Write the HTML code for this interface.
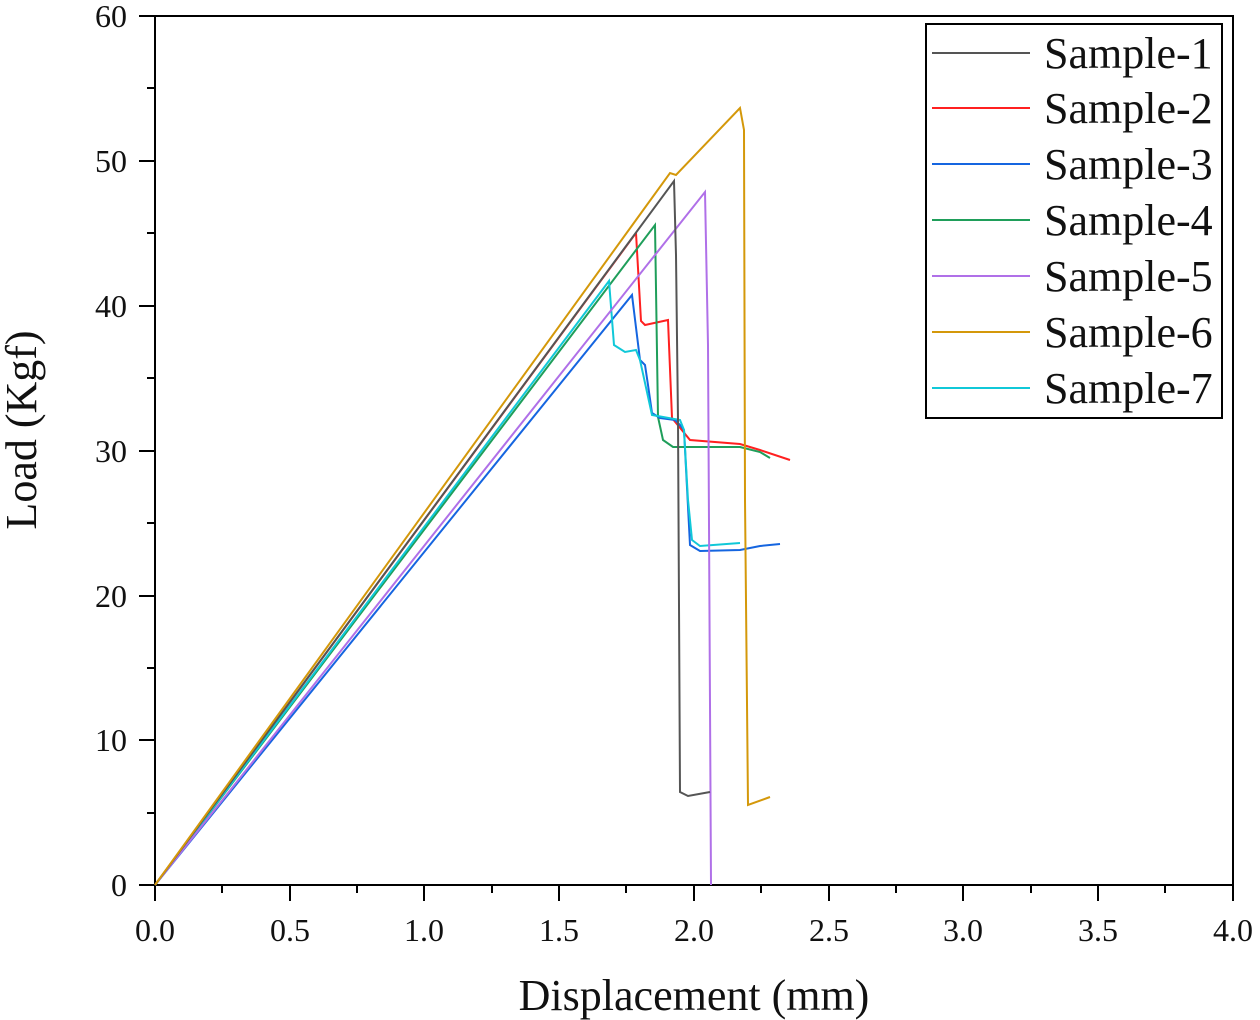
<!DOCTYPE html>
<html><head><meta charset="utf-8"><style>body{margin:0;background:#fff}svg{display:block}text{font-family:"Liberation Serif",serif;fill:#111}</style></head>
<body>
<svg width="1260" height="1020" viewBox="0 0 1260 1020">
<rect x="155" y="16" width="1078" height="869" fill="none" stroke="#000" stroke-width="2"/>
<g stroke="#000" stroke-width="2">
<line x1="155" y1="885" x2="155" y2="901"/><line x1="290" y1="885" x2="290" y2="901"/><line x1="424" y1="885" x2="424" y2="901"/><line x1="559" y1="885" x2="559" y2="901"/><line x1="694" y1="885" x2="694" y2="901"/><line x1="829" y1="885" x2="829" y2="901"/><line x1="963" y1="885" x2="963" y2="901"/><line x1="1098" y1="885" x2="1098" y2="901"/><line x1="1233" y1="885" x2="1233" y2="901"/>
<line x1="222" y1="885" x2="222" y2="893"/><line x1="357" y1="885" x2="357" y2="893"/><line x1="492" y1="885" x2="492" y2="893"/><line x1="626" y1="885" x2="626" y2="893"/><line x1="761" y1="885" x2="761" y2="893"/><line x1="896" y1="885" x2="896" y2="893"/><line x1="1031" y1="885" x2="1031" y2="893"/><line x1="1165" y1="885" x2="1165" y2="893"/>
<line x1="139" y1="885" x2="155" y2="885"/><line x1="139" y1="740" x2="155" y2="740"/><line x1="139" y1="596" x2="155" y2="596"/><line x1="139" y1="451" x2="155" y2="451"/><line x1="139" y1="306" x2="155" y2="306"/><line x1="139" y1="161" x2="155" y2="161"/><line x1="139" y1="16" x2="155" y2="16"/>
<line x1="147" y1="813" x2="155" y2="813"/><line x1="147" y1="668" x2="155" y2="668"/><line x1="147" y1="523" x2="155" y2="523"/><line x1="147" y1="378" x2="155" y2="378"/><line x1="147" y1="233" x2="155" y2="233"/><line x1="147" y1="88" x2="155" y2="88"/>
</g>
<g font-size="32" text-anchor="middle">
<text x="155" y="941">0.0</text><text x="290" y="941">0.5</text><text x="424" y="941">1.0</text><text x="559" y="941">1.5</text><text x="694" y="941">2.0</text><text x="829" y="941">2.5</text><text x="963" y="941">3.0</text><text x="1098" y="941">3.5</text><text x="1233" y="941">4.0</text>
</g>
<g font-size="32" text-anchor="end">
<text x="127" y="896">0</text><text x="127" y="751">10</text><text x="127" y="607">20</text><text x="127" y="462">30</text><text x="127" y="317">40</text><text x="127" y="172">50</text><text x="127" y="27">60</text>
</g>
<text x="694" y="1010" font-size="44" text-anchor="middle">Displacement (mm)</text>
<text transform="translate(36,430) rotate(-90)" font-size="44" text-anchor="middle">Load (Kgf)</text>
<g fill="none" stroke-width="2">
<polyline stroke="#ff2020" points="155,885 636,233 641,321 645,325 668,320 672,418 690,440 740,444 760,450 790,460"/>
<polyline stroke="#1f9e5a" points="155,885 655,225 658,417 663,440 673,447 740,447 760,452 770,458"/>
<polyline stroke="#1565e0" points="155,885 632,295 640,360 645,365 648,385 652,413 660,418 675,420 680,425 684,430 690,545 700,551 740,550 760,546 780,544"/>
<polyline stroke="#10c8d8" points="155,885 609,281 614,345 625,352 636,350 640,360 652,415 680,420 684,430 688,500 692,540 700,546 740,543"/>
<polyline stroke="#b070e8" points="155,885 705,192 708,345 711,885"/>
<polyline stroke="#555" points="155,885 674,181 676,255 678,420 680,792 688,796 710,792"/>
<polyline stroke="#d4980a" points="155,885 670,173 676,175 740,108 744,130 745,500 748,805 770,797"/>
</g>
<rect x="926" y="24" width="296" height="394" fill="#fff" stroke="#000" stroke-width="2"/>
<g stroke-width="2">
<line x1="932" y1="53" x2="1030" y2="53" stroke="#555"/>
<line x1="932" y1="108" x2="1030" y2="108" stroke="#ff2020"/>
<line x1="932" y1="164" x2="1030" y2="164" stroke="#1565e0"/>
<line x1="932" y1="220" x2="1030" y2="220" stroke="#1f9e5a"/>
<line x1="932" y1="276" x2="1030" y2="276" stroke="#b070e8"/>
<line x1="932" y1="332" x2="1030" y2="332" stroke="#d4980a"/>
<line x1="932" y1="388" x2="1030" y2="388" stroke="#10c8d8"/>
</g>
<g font-size="44">
<text x="1044" y="68">Sample-1</text><text x="1044" y="123">Sample-2</text><text x="1044" y="179">Sample-3</text><text x="1044" y="235">Sample-4</text><text x="1044" y="291">Sample-5</text><text x="1044" y="347">Sample-6</text><text x="1044" y="403">Sample-7</text>
</g>
</svg>
</body></html>
